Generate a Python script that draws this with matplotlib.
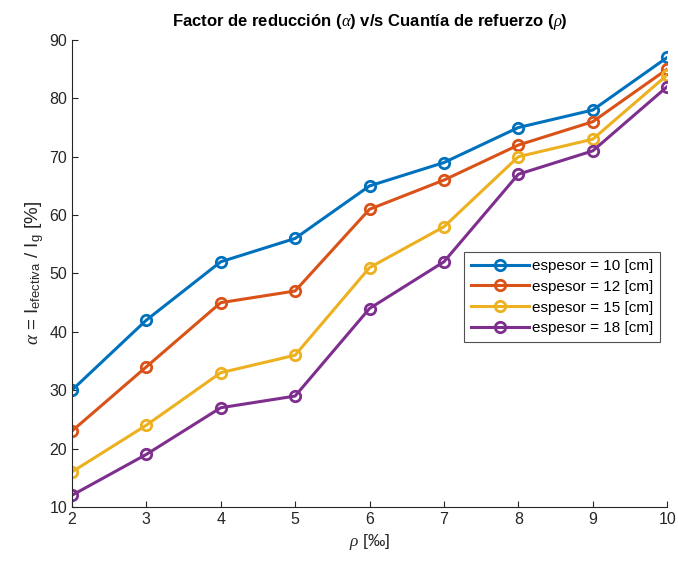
import matplotlib
matplotlib.use("Agg")
import matplotlib.pyplot as plt

# Data
rho = [2, 3, 4, 5, 6, 7, 8, 9, 10]
alpha_10 = [30, 42, 52, 56, 65, 69, 75, 78, 87]
alpha_12 = [23, 34, 45, 47, 61, 66, 72, 76, 85]
alpha_15 = [16, 24, 33, 36, 51, 58, 70, 73, 84]
alpha_18 = [12, 19, 27, 29, 44, 52, 67, 71, 82]
labels = ['espesor = 10 [cm]', 'espesor = 12 [cm]', 'espesor = 15 [cm]', 'espesor = 18 [cm]']
colors = ['#0072BD', '#D95319', '#EDB120', '#7E2F8E']

plt.rcParams['font.family'] = ['Liberation Sans', 'DejaVu Sans']
plt.rcParams['mathtext.fontset'] = 'custom'
plt.rcParams['mathtext.rm'] = 'Liberation Sans'
plt.rcParams['mathtext.it'] = 'Liberation Serif:italic'

fig = plt.figure(figsize=(6.78, 5.63), dpi=100)
ax = fig.add_axes([0.106, 0.0995, 0.878, 0.8295])

for y, lab, c in zip([alpha_10, alpha_12, alpha_15, alpha_18], labels, colors):
    ax.plot(rho, y, marker='o', markersize=7.5, markerfacecolor='none',
            markeredgewidth=2.0, linewidth=2.2, color=c, label=lab)

ax.set_xlim(2, 10)
ax.set_ylim(10, 90)
ax.set_xticks(rho)
ax.set_yticks(range(10, 91, 10))

for s in ['top', 'right']:
    ax.spines[s].set_visible(False)
for s in ['left', 'bottom']:
    ax.spines[s].set_color('#262626')
    ax.spines[s].set_linewidth(0.8)
ax.tick_params(direction='in', length=4, width=0.8, colors='#262626',
               labelsize=11.5, labelcolor='#262626')

ax.set_title(r'Factor de reducción ($\alpha$) v/s Cuantía de refuerzo ($\rho$)',
             fontsize=12, fontweight='bold', pad=10)
ax.set_xlabel(r'$\rho$ [‰]', fontsize=12.5, color='#262626', labelpad=4)
ax.set_ylabel(r'$\alpha$ = I$_{\mathrm{efectiva}}$ / I$_{\mathrm{g}}$ [%]',
              fontsize=13.5, color='#262626', labelpad=2)

leg = ax.legend(loc='upper left', bbox_to_anchor=(0.659, 0.546), fontsize=11,
                frameon=True, fancybox=False, edgecolor='#262626',
                handlelength=3.8, borderpad=0.45, labelspacing=0.45,
                handletextpad=0.2, borderaxespad=0)
leg.get_frame().set_linewidth(0.8)

fig.savefig('out.png', dpi=100)
